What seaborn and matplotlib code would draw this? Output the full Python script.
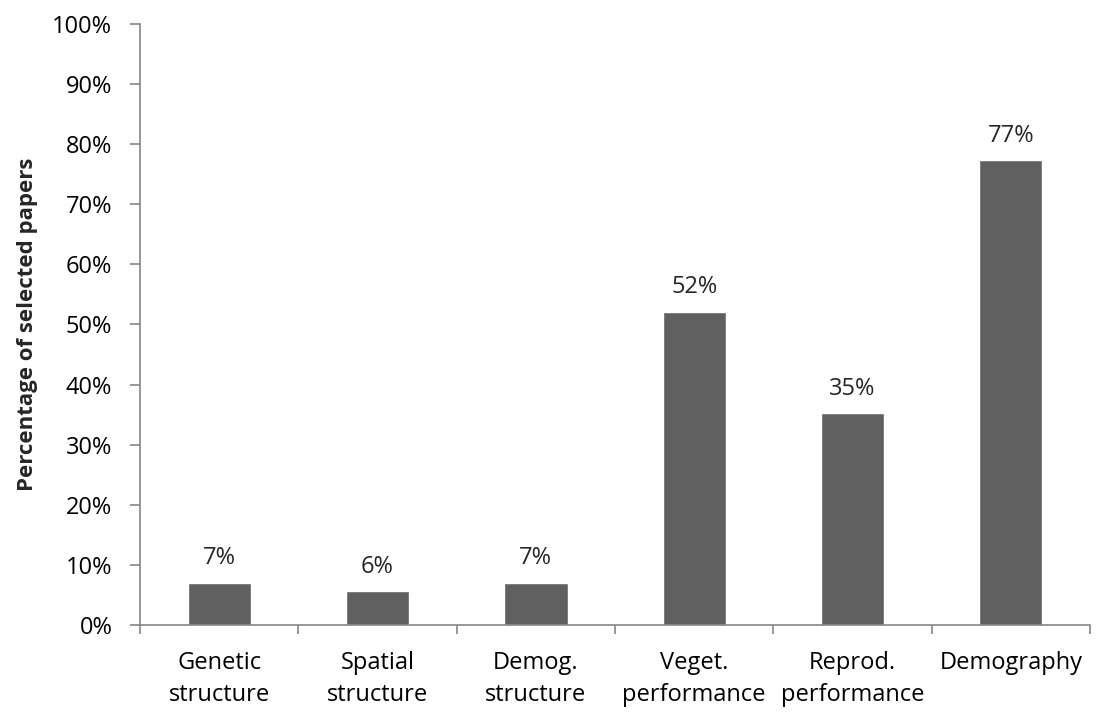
import matplotlib
matplotlib.use("Agg")
import matplotlib.pyplot as plt
import seaborn as sns
import pandas as pd
from matplotlib.ticker import FuncFormatter

categories = ["Genetic\nstructure", "Spatial\nstructure", "Demog.\nstructure",
              "Veget.\nperformance", "Reprod.\nperformance", "Demography"]
percentages = [7.0, 5.6, 7.0, 52.1, 35.2, 77.3]
y_ticks = list(range(0, 101, 10))

sns.set_theme(style="white")
plt.rcParams["font.family"] = ["Open Sans", "DejaVu Sans"]

df = pd.DataFrame({"category": categories, "pct": percentages})

fig = plt.figure(figsize=(11, 7.13), dpi=100)
ax = fig.add_axes([0.1273, 0.1234, 0.8636, 0.843])

sns.barplot(data=df, x="category", y="pct", color="#606060", width=0.4,
            saturation=1, ax=ax)

axis_color = "#868686"
label_size = 17
ax.set_ylim(0, 100)
ax.set_xlim(-0.5, len(categories) - 0.5)
ax.set_yticks(y_ticks)
ax.yaxis.set_major_formatter(FuncFormatter(lambda v, _: f"{v:.0f}%"))
ax.tick_params(axis="y", direction="out", length=7, width=1.2, color=axis_color,
               labelsize=label_size, labelcolor="black", pad=13, left=True)

# category boundaries carry the tick marks; labels sit at category centres
ax.set_xticks([i - 0.5 for i in range(len(categories) + 1)])
ax.set_xticklabels([])
ax.set_xticks(range(len(categories)), minor=True)
ax.set_xticklabels(categories, minor=True, fontsize=label_size, linespacing=1.42)
ax.tick_params(axis="x", which="major", direction="out", length=6.5, width=1.2,
               color=axis_color, bottom=True)
ax.tick_params(axis="x", which="minor", length=0, pad=19, labelcolor="black")

for side in ["top", "right"]:
    ax.spines[side].set_visible(False)
for side in ["left", "bottom"]:
    ax.spines[side].set_color(axis_color)
    ax.spines[side].set_linewidth(1.2)

ax.set_xlabel("")
ax.set_ylabel("Percentage of selected papers", fontsize=16, fontweight="bold",
              labelpad=10)

for i, v in enumerate(percentages):
    ax.annotate(f"{v:.0f}%", (i, v), xytext=(0, 9), textcoords="offset points",
                ha="center", va="bottom", fontsize=label_size)

fig.savefig("out.png", dpi=100)
